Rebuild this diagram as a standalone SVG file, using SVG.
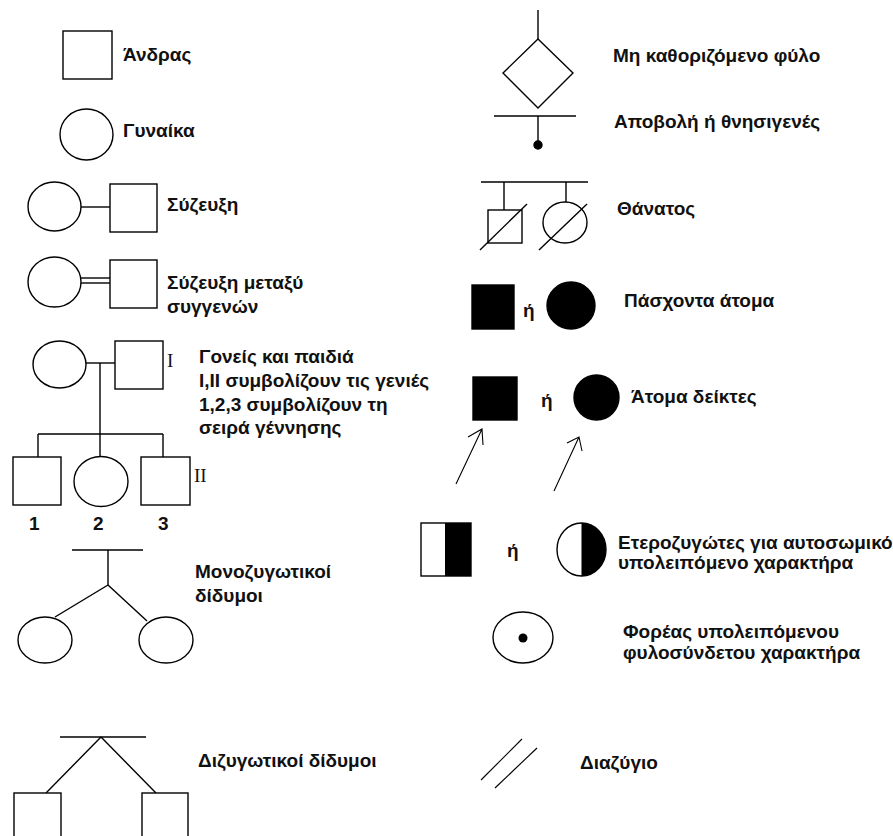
<svg xmlns="http://www.w3.org/2000/svg" width="893" height="836" viewBox="0 0 893 836">
  <style>
    .sym { fill: #fff; stroke: #000; stroke-width: 1.4; }
    .solid { fill: #000; stroke: #000; stroke-width: 1.4; }
    .ln { fill: none; stroke: #000; stroke-width: 1.4; }
    .thin { fill: none; stroke: #000; stroke-width: 1.1; }
    .lbl { font-family: "Liberation Sans", Arial, sans-serif; font-size: 19px; font-weight: bold; fill: #111; }
    .roman { font-family: "Liberation Serif", "Times New Roman", serif; font-size: 19px; fill: #111; }
  </style>
  <rect width="893" height="836" fill="#fff"/>

  <!-- connectors -->
  <g id="connectors">
    <!-- marriage -->
    <line class="ln" x1="81" y1="207" x2="110" y2="207"/>
    <!-- consanguineous marriage -->
    <line class="ln" x1="81" y1="278" x2="110" y2="278"/>
    <line class="ln" x1="81" y1="283" x2="110" y2="283"/>
    <!-- parents and children -->
    <line class="ln" x1="86" y1="363" x2="115" y2="363"/>
    <line class="ln" x1="100" y1="363" x2="100" y2="457"/>
    <line class="ln" x1="38" y1="434" x2="163" y2="434"/>
    <line class="ln" x1="38" y1="434" x2="38" y2="457"/>
    <line class="ln" x1="163" y1="434" x2="163" y2="457"/>
    <!-- monozygotic twins -->
    <line class="ln" x1="72" y1="550" x2="143" y2="550"/>
    <line class="ln" x1="108" y1="550" x2="108" y2="585"/>
    <line class="ln" x1="108" y1="585" x2="55" y2="617"/>
    <line class="ln" x1="108" y1="585" x2="147" y2="621"/>
    <!-- dizygotic twins -->
    <line class="ln" x1="60" y1="737" x2="146" y2="737"/>
    <line class="ln" x1="101" y1="737" x2="46" y2="793"/>
    <line class="ln" x1="101" y1="737" x2="156" y2="793"/>
    <!-- unknown sex -->
    <line class="ln" x1="538" y1="10" x2="538" y2="39"/>
    <!-- miscarriage -->
    <line class="ln" x1="494" y1="116" x2="576" y2="116"/>
    <line class="ln" x1="538" y1="116" x2="538" y2="143"/>
    <!-- deceased -->
    <line class="ln" x1="481" y1="182" x2="588" y2="182"/>
    <line class="ln" x1="504" y1="182" x2="504" y2="210"/>
    <line class="ln" x1="566" y1="182" x2="566" y2="202"/>
    <!-- proband arrows -->
    <path class="thin" d="M456 484 L482 429 M468 437 L482 429 L483 445"/>
    <path class="thin" d="M554 491 L579 437 M567 443 L579 437 L582 451"/>
    <!-- divorce -->
    <line class="thin" x1="481" y1="780" x2="522" y2="739"/>
    <line class="thin" x1="495" y1="788" x2="537" y2="748"/>
  </g>

  <!-- left column -->
  <g id="male">
    <rect class="sym" x="63" y="31" width="49" height="48"/>
    <text class="lbl" x="123" y="61">Άνδρας</text>
  </g>
  <g id="female">
    <ellipse class="sym" cx="86.5" cy="134.5" rx="26.5" ry="25.5"/>
    <text class="lbl" x="123" y="137">Γυναίκα</text>
  </g>
  <g id="marriage">
    <ellipse class="sym" cx="54.5" cy="206.5" rx="26.5" ry="24.5"/>
    <rect class="sym" x="110" y="184" width="47" height="48"/>
    <text class="lbl" x="167" y="211">Σύζευξη</text>
  </g>
  <g id="consanguineous">
    <ellipse class="sym" cx="54.5" cy="282" rx="26.5" ry="25"/>
    <rect class="sym" x="110" y="260" width="47" height="48"/>
    <text class="lbl" x="167" y="289">Σύζευξη μεταξύ</text>
    <text class="lbl" x="167" y="313">συγγενών</text>
  </g>
  <g id="parents-children">
    <ellipse class="sym" cx="59.5" cy="364.5" rx="26.5" ry="23.5"/>
    <rect class="sym" x="115" y="341" width="48" height="48"/>
    <text class="roman" x="167" y="367">I</text>
    <rect class="sym" x="13" y="457" width="48" height="48"/>
    <ellipse class="sym" cx="101" cy="481.5" rx="27" ry="25"/>
    <rect class="sym" x="141" y="457" width="49" height="48"/>
    <text class="roman" x="194" y="482">II</text>
    <text class="lbl" x="29" y="530">1</text>
    <text class="lbl" x="93" y="530">2</text>
    <text class="lbl" x="158" y="530">3</text>
    <text class="lbl" x="199" y="363">Γονείς και παιδιά</text>
    <text class="lbl" x="199" y="387">I,II συμβολίζουν τις γενιές</text>
    <text class="lbl" x="199" y="411">1,2,3 συμβολίζουν τη</text>
    <text class="lbl" x="199" y="434">σειρά γέννησης</text>
  </g>
  <g id="monozygotic">
    <ellipse class="sym" cx="45" cy="640" rx="27" ry="23"/>
    <ellipse class="sym" cx="166" cy="640" rx="27" ry="23"/>
    <text class="lbl" x="195" y="578">Μονοζυγωτικοί</text>
    <text class="lbl" x="195" y="602">δίδυμοι</text>
  </g>
  <g id="dizygotic">
    <rect class="sym" x="14" y="793" width="47" height="60"/>
    <rect class="sym" x="142" y="793" width="46" height="60"/>
    <text class="lbl" x="198" y="767">Διζυγωτικοί δίδυμοι</text>
  </g>

  <!-- right column -->
  <g id="unknown-sex">
    <polygon class="sym" points="538,39 573,73 538,108 503,73"/>
    <text class="lbl" x="613" y="62">Μη καθοριζόμενο φύλο</text>
  </g>
  <g id="miscarriage">
    <circle class="solid" cx="538" cy="145" r="4"/>
    <text class="lbl" x="614" y="128">Αποβολή ή θνησιγενές</text>
  </g>
  <g id="deceased">
    <rect class="sym" x="488" y="210" width="34" height="33"/>
    <line class="ln" x1="480" y1="250" x2="527" y2="204"/>
    <ellipse class="sym" cx="565" cy="222.5" rx="22" ry="20.5"/>
    <line class="ln" x1="539" y1="250" x2="587" y2="204"/>
    <text class="lbl" x="617" y="215">Θάνατος</text>
  </g>
  <g id="affected">
    <rect class="solid" x="472" y="285" width="42" height="44"/>
    <text class="lbl" x="523" y="317">ή</text>
    <ellipse class="solid" cx="571" cy="305.5" rx="24" ry="23.5"/>
    <text class="lbl" x="624" y="307">Πάσχοντα άτομα</text>
  </g>
  <g id="proband">
    <rect class="solid" x="473" y="377" width="44" height="43"/>
    <text class="lbl" x="541" y="407">ή</text>
    <circle class="solid" cx="596.5" cy="397.5" r="22.5"/>
    <text class="lbl" x="631" y="403">Άτομα δείκτες</text>
  </g>
  <g id="heterozygote">
    <rect class="sym" x="421" y="523" width="50" height="53"/>
    <rect x="445" y="523" width="26" height="53" fill="#000"/>
    <text class="lbl" x="507" y="557">ή</text>
    <ellipse class="sym" cx="581.5" cy="549.5" rx="24.5" ry="26.5"/>
    <path d="M581.5 523 A24.5 26.5 0 0 1 581.5 576 Z" fill="#000"/>
    <text class="lbl" x="618" y="549">Ετεροζυγώτες για αυτοσωμικό</text>
    <text class="lbl" x="618" y="569">υπολειπόμενο χαρακτήρα</text>
  </g>
  <g id="carrier">
    <ellipse class="sym" cx="523" cy="637.5" rx="30" ry="25.5"/>
    <circle cx="523" cy="638" r="4.5" fill="#000"/>
    <text class="lbl" x="623" y="638">Φορέας υπολειπόμενου</text>
    <text class="lbl" x="623" y="659">φυλοσύνδετου χαρακτήρα</text>
  </g>
  <g id="divorce">
    <text class="lbl" x="580" y="769">Διαζύγιο</text>
  </g>
</svg>
